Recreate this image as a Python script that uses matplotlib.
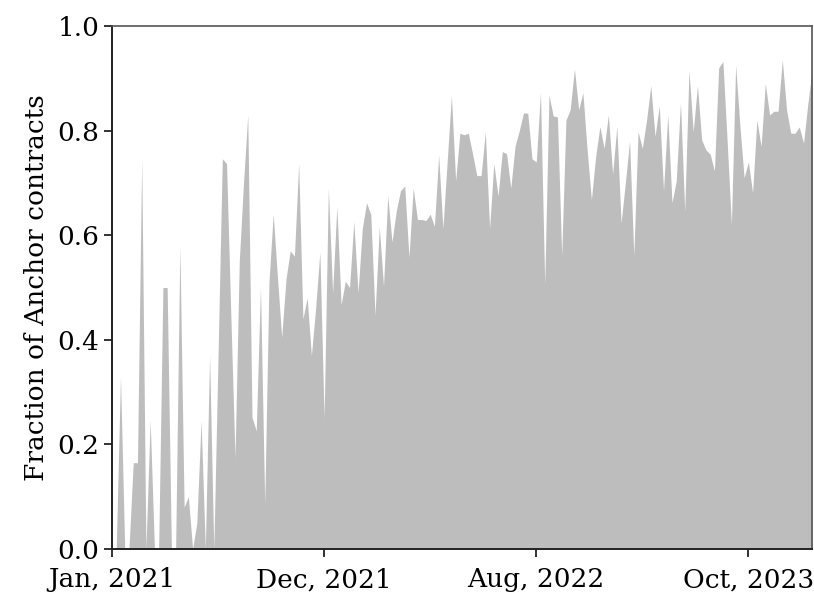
import matplotlib
matplotlib.use("Agg")
import matplotlib.pyplot as plt
import numpy as np

# Fraction of Anchor contracts per period
fraction = [
    0.00, 0.00, 0.33, 0.00, 0.00, 0.165, 0.165, 0.745, 0.00, 0.246,
    0.00, 0.00, 0.50, 0.50, 0.00, 0.00, 0.58, 0.08, 0.10, 0.00,
    0.05, 0.245, 0.00, 0.37, 0.00, 0.37, 0.746, 0.737, 0.45, 0.174,
    0.55, 0.70, 0.83, 0.252, 0.226, 0.50, 0.086, 0.51, 0.64, 0.52,
    0.405, 0.515, 0.57, 0.56, 0.737, 0.44, 0.48, 0.37, 0.46, 0.568,
    0.25, 0.69, 0.49, 0.655, 0.467, 0.512, 0.50, 0.626, 0.49, 0.613,
    0.662, 0.64, 0.447, 0.616, 0.503, 0.675, 0.587, 0.646, 0.685, 0.694,
    0.558, 0.69, 0.63, 0.63, 0.628, 0.64, 0.617, 0.753, 0.613, 0.74,
    0.867, 0.704, 0.795, 0.792, 0.795, 0.755, 0.714, 0.714, 0.798, 0.613,
    0.737, 0.675, 0.76, 0.756, 0.69, 0.77, 0.80, 0.834, 0.833, 0.746,
    0.74, 0.873, 0.506, 0.868, 0.828, 0.826, 0.561, 0.82, 0.84, 0.918,
    0.84, 0.872, 0.763, 0.668, 0.75, 0.808, 0.766, 0.83, 0.717, 0.808,
    0.623, 0.70, 0.78, 0.561, 0.798, 0.766, 0.82, 0.886, 0.789, 0.847,
    0.685, 0.83, 0.662, 0.704, 0.854, 0.646, 0.915, 0.798, 0.886, 0.782,
    0.763, 0.755, 0.723, 0.92, 0.932, 0.78, 0.62, 0.925, 0.81, 0.71,
    0.74, 0.681, 0.82, 0.77, 0.89, 0.83, 0.837, 0.837, 0.935, 0.84,
    0.795, 0.795, 0.807, 0.776, 0.85, 0.915,
]
xtick_positions = [0, 50, 100, 150]
xtick_labels = ["Jan, 2021", "Dec, 2021", "Aug, 2022", "Oct, 2023"]
ytick_values = [0.0, 0.2, 0.4, 0.6, 0.8, 1.0]
ylabel = "Fraction of Anchor contracts"

plt.rcParams["font.family"] = ["DejaVu Serif"]

fig = plt.figure(figsize=(8.14, 5.92), dpi=100)
ax = fig.add_axes([112 / 814, 1 - 549 / 592, 700 / 814, 523 / 592])

x = np.arange(len(fraction))
ax.fill_between(x, fraction, 0, color="#bdbdbd", linewidth=0)

ax.set_xlim(0, len(fraction) - 1)
ax.set_ylim(0, 1.0)
ax.set_xticks(xtick_positions)
ax.set_xticklabels(xtick_labels)
ax.set_yticks(ytick_values)
ax.set_yticklabels([f"{v:.1f}" for v in ytick_values])
ax.set_ylabel(ylabel, fontsize=19, labelpad=6)
ax.tick_params(axis="both", labelsize=19, length=6, width=1.3, direction="out",
               color="#222222", labelcolor="black")
ax.tick_params(axis="y", pad=3)
ax.tick_params(axis="x", pad=7)
for side in ["left", "bottom"]:
    ax.spines[side].set_color("#222222")
    ax.spines[side].set_linewidth(1.4)
for side in ["top", "right"]:
    ax.spines[side].set_color("#555555")
    ax.spines[side].set_linewidth(1.2)

fig.savefig("out.png", dpi=100)
